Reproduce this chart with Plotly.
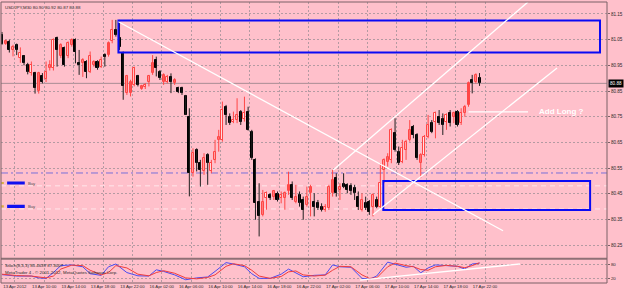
import plotly.graph_objects as go

# ---------------- data ----------------
title_text = "USDJPY,M30 80.90 80.92 80.87 80.88"

opens = [81.07, 81.035, 81.04, 81.01, 81.03, 80.98, 80.985, 80.95, 80.92, 80.92,
         80.85, 80.91, 80.895, 80.94, 80.94, 81.055, 80.985, 81.016, 80.985, 81.03,
         81.05, 80.96, 80.958, 80.965, 80.925, 80.952, 80.965, 80.945, 80.99, 80.99,
         81.043, 81.088, 81.055, 80.997, 80.842, 80.842, 80.874, 80.907, 80.858, 80.865,
         80.887, 80.92, 80.971, 80.926, 80.887, 80.887, 80.906, 80.88, 80.861, 80.861,
         80.829, 80.75, 80.53, 80.621, 80.569, 80.537, 80.601, 80.537, 80.582, 80.66,
         80.66, 80.789, 80.75, 80.731, 80.737, 80.77, 80.74, 80.77, 80.692, 80.582,
         80.42, 80.368, 80.433, 80.446, 80.439, 80.45, 80.433, 80.433, 80.459, 80.485,
         80.42, 80.446, 80.426, 80.407, 80.452, 80.42, 80.413, 80.40, 80.387, 80.394,
         80.452, 80.511, 80.465, 80.488, 80.485, 80.48, 80.472, 80.439, 80.387, 80.413,
         80.42, 80.40, 80.426, 80.40, 80.543, 80.575, 80.582, 80.686, 80.614, 80.575,
         80.621, 80.66, 80.712, 80.679, 80.569, 80.601, 80.673, 80.725, 80.731, 80.75,
         80.74, 80.731, 80.763, 80.75, 80.77, 80.725, 80.763, 80.796, 80.893, 80.887,
         80.90]
highs = [81.08, 81.05, 81.05, 81.03, 81.035, 81.02, 80.99, 80.96, 80.965, 80.925,
         80.925, 80.92, 80.965, 80.97, 81.055, 81.062, 81.036, 81.023, 81.043, 81.055,
         81.055, 81.01, 80.978, 80.97, 81.004, 80.97, 80.97, 80.984, 80.997, 81.043,
         81.127, 81.127, 81.127, 81.004, 80.913, 80.894, 80.945, 80.913, 80.874, 80.881,
         80.913, 80.99, 80.984, 80.932, 80.919, 80.913, 80.919, 80.90, 80.867, 80.867,
         80.835, 80.783, 80.627, 80.627, 80.582, 80.608, 80.608, 80.582, 80.66, 80.699,
         80.809, 80.796, 80.763, 80.77, 80.822, 80.776, 80.828, 80.789, 80.699, 80.588,
         80.491, 80.465, 80.459, 80.452, 80.465, 80.459, 80.459, 80.459, 80.536, 80.498,
         80.485, 80.459, 80.439, 80.478, 80.485, 80.452, 80.426, 80.413, 80.41, 80.485,
         80.543, 80.53, 80.491, 80.53, 80.491, 80.491, 80.485, 80.459, 80.452, 80.439,
         80.426, 80.452, 80.439, 80.569, 80.588, 80.608, 80.705, 80.744, 80.634, 80.66,
         80.66, 80.737, 80.718, 80.686, 80.608, 80.679, 80.757, 80.737, 80.77, 80.776,
         80.763, 80.763, 80.776, 80.77, 80.776, 80.783, 80.796, 80.887, 80.913, 80.919,
         80.92]
lows = [81.03, 81.03, 81.00, 80.985, 80.99, 80.96, 80.95, 80.915, 80.91, 80.84,
        80.84, 80.88, 80.885, 80.93, 80.93, 80.945, 80.978, 80.945, 80.978, 81.023,
        80.958, 80.913, 80.905, 80.90, 80.92, 80.945, 80.933, 80.94, 80.945, 80.984,
        81.036, 81.062, 81.01, 80.816, 80.835, 80.829, 80.868, 80.868, 80.855, 80.858,
        80.868, 80.913, 80.907, 80.893, 80.874, 80.88, 80.842, 80.874, 80.842, 80.835,
        80.757, 80.44, 80.517, 80.537, 80.478, 80.524, 80.485, 80.53, 80.569, 80.614,
        80.653, 80.718, 80.718, 80.725, 80.725, 80.718, 80.731, 80.696, 80.582, 80.349,
        80.284, 80.362, 80.388, 80.426, 80.426, 80.42, 80.413, 80.388, 80.446, 80.426,
        80.413, 80.40, 80.349, 80.40, 80.362, 80.362, 80.387, 80.381, 80.38, 80.387,
        80.439, 80.439, 80.426, 80.472, 80.452, 80.446, 80.426, 80.387, 80.381, 80.387,
        80.368, 80.362, 80.394, 80.394, 80.491, 80.556, 80.569, 80.614, 80.562, 80.569,
        80.582, 80.653, 80.666, 80.582, 80.511, 80.595, 80.666, 80.686, 80.666, 80.718,
        80.679, 80.699, 80.712, 80.725, 80.712, 80.718, 80.75, 80.789, 80.841, 80.88,
        80.87]
closes = [81.035, 81.045, 81.01, 81.02, 81.01, 81.00, 80.96, 80.925, 80.95, 80.86,
          80.92, 80.885, 80.925, 80.95, 81.05, 81.01, 81.03, 80.95, 81.036, 81.05,
          81.004, 80.952, 80.97, 80.925, 80.985, 80.965, 80.94, 80.97, 80.984, 81.036,
          81.088, 81.069, 81.023, 80.868, 80.907, 80.887, 80.939, 80.874, 80.868, 80.874,
          80.907, 80.958, 80.939, 80.90, 80.913, 80.906, 80.887, 80.893, 80.848, 80.842,
          80.757, 80.53, 80.608, 80.569, 80.543, 80.588, 80.569, 80.569, 80.614, 80.673,
          80.776, 80.757, 80.727, 80.737, 80.757, 80.731, 80.763, 80.699, 80.588, 80.413,
          80.362, 80.42, 80.452, 80.433, 80.459, 80.426, 80.446, 80.452, 80.485, 80.433,
          80.439, 80.413, 80.387, 80.439, 80.478, 80.40, 80.394, 80.387, 80.40, 80.478,
          80.504, 80.452, 80.478, 80.475, 80.465, 80.459, 80.452, 80.40, 80.426, 80.394,
          80.381, 80.446, 80.40, 80.491, 80.582, 80.595, 80.699, 80.621, 80.569, 80.627,
          80.653, 80.699, 80.679, 80.588, 80.601, 80.67, 80.718, 80.692, 80.763, 80.725,
          80.718, 80.757, 80.725, 80.763, 80.718, 80.763, 80.789, 80.88, 80.88, 80.913,
          80.88]

tick_bars = [0, 8, 16, 24, 32, 40, 48, 56, 64, 72, 80, 88, 96, 104, 112, 120, 128]
tick_labels = ["13 Apr 2012", "13 Apr 10:00", "13 Apr 14:00", "13 Apr 18:00", "13 Apr 22:00",
               "16 Apr 02:00", "16 Apr 06:00", "16 Apr 10:00", "16 Apr 14:00", "16 Apr 18:00",
               "16 Apr 22:00", "17 Apr 02:00", "17 Apr 06:00", "17 Apr 10:00", "17 Apr 14:00",
               "17 Apr 18:00", "17 Apr 22:00"]
price_ticks = [80.25, 80.35, 80.45, 80.55, 80.65, 80.75, 80.85, 80.95, 81.05, 81.15]

stoch_bars = [0, 4, 8, 10, 12, 14, 16, 19, 22, 24, 27, 29, 31, 34, 37, 40, 42, 44, 47, 50,
              53, 56, 58, 61, 63, 66, 68, 70, 73, 76, 78, 80, 82, 85, 88, 90, 92, 95, 98, 100,
              102, 105, 107, 110, 112, 114, 116, 118, 121, 124, 126, 128, 130]
stoch_main = [36, 30, 30, 22, 20, 45, 75, 78, 70, 40, 33, 70, 82, 45, 31, 30, 57, 50, 35, 14,
              22, 26, 50, 88, 82, 70, 40, 20, 20, 38, 60, 42, 27, 33, 35, 78, 70, 68, 20, 16,
              30, 90, 80, 68, 72, 44, 65, 78, 75, 72, 60, 82, 85.46]
stoch_signal = [38, 32, 30, 27, 22, 30, 60, 77, 75, 55, 35, 45, 75, 65, 38, 31, 45, 53, 42, 22,
                18, 24, 35, 72, 83, 75, 55, 30, 20, 28, 48, 52, 35, 30, 34, 55, 72, 70, 35, 20,
                22, 70, 86, 75, 70, 58, 55, 70, 76, 72, 66, 75, 87.30]
stoch_label = "Stoch(8,3,3) 85.4639 87.3007"
copyright_text = "MetaTrader 4 - \u00a9 2001-2012, MetaQuotes Software Corp."
last_price = 80.88

# ---------------- styling ----------------
PINK = "#FFC0CB"
GRID = "#B49AA2"
TXT = "#2A2A2A"
BULL = "#FF4646"
BULL_FILL = "#FFF0F2"
BEAR = "#000000"
FONT = "Liberation Sans, Arial, sans-serif"

n = len(opens)
idx = list(range(n))
bull = [c >= o for o, c in zip(opens, closes)]

fig = go.Figure()

# wicks (drawn first, bodies cover them)
for want, col in ((True, BULL), (False, "#202020")):
    xs, ys = [], []
    for i in idx:
        if bull[i] == want:
            xs += [i, i, None]
            ys += [lows[i], highs[i], None]
    fig.add_trace(go.Scatter(x=xs, y=ys, mode="lines", line=dict(color=col, width=1),
                             hoverinfo="skip", showlegend=False))

body_base = [min(o, c) for o, c in zip(opens, closes)]
body_h = [max(abs(c - o), 0.003) for o, c in zip(opens, closes)]
fig.add_trace(go.Bar(x=idx, y=body_h, base=body_base, width=0.55,
                     marker=dict(color=[BULL_FILL if b else BEAR for b in bull],
                                 line=dict(color=[BULL if b else BEAR for b in bull], width=1)),
                     showlegend=False, hoverinfo="skip"))

# stochastic
fig.add_trace(go.Scatter(x=stoch_bars, y=stoch_main, yaxis="y2", mode="lines",
                         line=dict(color="#4A4AF0", width=1), showlegend=False))
fig.add_trace(go.Scatter(x=stoch_bars, y=stoch_signal, yaxis="y2", mode="lines",
                         line=dict(color="#F03C3C", width=1), showlegend=False))

shapes = []
# bid line
shapes.append(dict(type="line", xref="paper", x0=0, x1=1, yref="y", y0=last_price, y1=last_price,
                   line=dict(color="#A88C94", width=1), layer="below"))
# purple dash-dot level
shapes.append(dict(type="line", xref="paper", x0=0, x1=1, yref="y", y0=80.531, y1=80.531,
                   line=dict(color="#7A70D8", width=1, dash="7px,3px,2px,3px"), layer="below"))
# pending order lines
for lvl in (80.481, 80.391):
    shapes.append(dict(type="line", xref="paper", x0=0, x1=1, yref="y", y0=lvl, y1=lvl,
                       line=dict(color="#FFE6EA", width=1, dash="5px,4px"), layer="below"))
# order labels (blue tags)
for lvl in (80.492, 80.401):
    shapes.append(dict(type="rect", xref="x", x0=1.4, x1=6.2, yref="y", y0=lvl - 0.006, y1=lvl + 0.006,
                       fillcolor="#1010F0", line=dict(width=0), layer="above"))
    shapes.append(dict(type="rect", xref="x", x0=-0.2, x1=0.5, yref="y", y0=lvl - 0.004, y1=lvl + 0.004,
                       fillcolor="#D8B040", line=dict(width=0), layer="above"))
# blue zones
shapes.append(dict(type="rect", xref="x", x0=31.7, x1=162.8, yref="y", y0=81.0, y1=81.125,
                   line=dict(color="#0A0AF5", width=2), fillcolor="rgba(0,0,0,0)", layer="above"))
shapes.append(dict(type="rect", xref="x", x0=103.8, x1=160.1, yref="y", y0=80.387, y1=80.50,
                   line=dict(color="#0A0AF5", width=2), fillcolor="rgba(0,0,0,0)", layer="above"))
# white trend lines
for (xa, ya, xb, yb) in ((31.7, 81.12, 136.4, 80.306),
                         (90.2, 80.543, 143.2, 81.197),
                         (101.0, 80.368, 151.1, 80.94),
                         (127.0, 80.769, 143.2, 80.769)):
    shapes.append(dict(type="line", xref="x", yref="y", x0=xa, y0=ya, x1=xb, y1=yb,
                       line=dict(color="white", width=1.3), layer="above"))
shapes.append(dict(type="line", xref="x", yref="y2", x0=97.5, y0=12.5, x1=141, y1=82,
                   line=dict(color="white", width=1.3), layer="above"))
# separator between panels
shapes.append(dict(type="rect", xref="paper", yref="paper", x0=0, x1=1, y0=0.0825, y1=0.0895,
                   fillcolor="#8E7076", line=dict(width=0), layer="above"))
# frame
shapes.append(dict(type="rect", xref="paper", yref="paper", x0=0, x1=1, y0=0, y1=1,
                   line=dict(color="#7A6066", width=1), fillcolor="rgba(0,0,0,0)", layer="above"))

annotations = [
    dict(xref="paper", yref="paper", x=0, y=1, xanchor="left", yanchor="top", xshift=2, yshift=-1,
         text=title_text, showarrow=False, font=dict(size=4.4, color=TXT, family=FONT)),
    dict(xref="paper", yref="paper", x=0, y=0.082, xanchor="left", yanchor="top", xshift=2, yshift=-1,
         text=stoch_label, showarrow=False, font=dict(size=4.4, color=TXT, family=FONT)),
    dict(xref="paper", yref="paper", x=0, y=0.039, xanchor="left", yanchor="middle", xshift=2,
         text=copyright_text, showarrow=False, font=dict(size=4.4, color=TXT, family=FONT)),
    dict(xref="x", yref="y", x=145.7, y=80.769, xanchor="left", yanchor="middle",
         text="<b>Add Long ?</b>", showarrow=False, font=dict(size=8, color="white", family=FONT)),
    dict(xref="paper", yref="y", x=1, y=last_price, xanchor="left", yanchor="middle", xshift=1,
         text="80.88", showarrow=False, bgcolor="#000000", borderpad=1,
         font=dict(size=4.6, color="white", family=FONT)),
]
for lvl in (80.492, 80.401):
    annotations.append(dict(xref="x", yref="y", x=6.6, y=lvl, xanchor="left", yanchor="middle",
                            text="Buy", showarrow=False, font=dict(size=4.2, color="#505050", family=FONT)))

fig.update_layout(
    width=625, height=291,
    margin=dict(l=1, r=18, t=2, b=8),
    paper_bgcolor=PINK, plot_bgcolor=PINK,
    showlegend=False, bargap=0,
    shapes=shapes, annotations=annotations,
    xaxis=dict(domain=[0, 1], range=[-0.27, 164.7], anchor="y2",
               tickmode="array", tickvals=[b + 3.5 for b in tick_bars], ticktext=tick_labels,
               showgrid=True, gridcolor=GRID, griddash="2px,2px", gridwidth=1,
               zeroline=False, showline=False, ticks="",
               tickfont=dict(size=4.3, color=TXT, family=FONT), rangeslider=dict(visible=False)),
    yaxis=dict(domain=[0.0895, 1], range=[80.2006, 81.1967], side="right", anchor="x",
               tickmode="array", tickvals=price_ticks, ticktext=[f"{v:.2f}" for v in price_ticks],
               showgrid=True, gridcolor=GRID, griddash="2px,2px", gridwidth=1,
               zeroline=False, showline=False, ticks="outside", ticklen=2, tickcolor="#7A6066",
               tickfont=dict(size=4.6, color=TXT, family=FONT)),
    yaxis2=dict(domain=[0, 0.0825], range=[0, 100], side="right", anchor="x",
                tickmode="array", tickvals=[20, 80], ticktext=["20", "80"],
                showgrid=True, gridcolor=GRID, griddash="2px,2px", gridwidth=1,
                zeroline=False, showline=False, ticks="outside", ticklen=2, tickcolor="#7A6066",
                tickfont=dict(size=4.4, color=TXT, family=FONT)),
)

fig.write_html("out.html")
